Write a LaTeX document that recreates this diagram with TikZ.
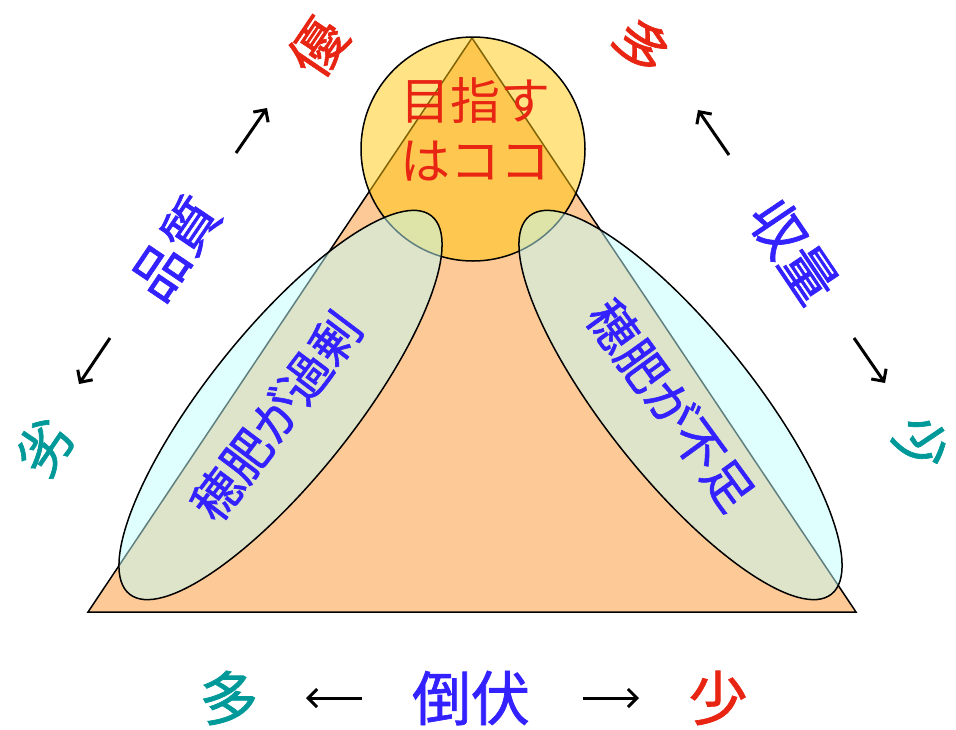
\documentclass[tikz,border=0pt]{standalone}
\usepackage{fontspec}
\setmainfont{Noto Sans CJK JP}
\newfontfamily\heavy[FakeBold=1.2]{Noto Sans CJK JP}
\usetikzlibrary{shapes.geometric,arrows.meta}
\definecolor{peach}{RGB}{253,201,150}
\definecolor{sun}{RGB}{255,199,11}
\definecolor{ice}{RGB}{192,255,255}
\definecolor{jred}{RGB}{232,36,18}
\definecolor{jblue}{RGB}{51,34,255}
\definecolor{jteal}{RGB}{0,153,153}
\tikzset{
  goaltxt/.style={inner sep=0pt, font=\fontsize{50}{60}\selectfont},
  lbl/.style={inner sep=0pt, font=\heavy\fontsize{55}{64}\selectfont},
  big/.style={inner sep=0pt, font=\heavy\fontsize{59}{66}\selectfont},
  inlbl/.style={inner sep=0pt, font=\heavy\fontsize{49}{58}\selectfont, text=jblue},
  arr/.style={line width=3pt, -{Straight Barb[length=9pt,width=18pt,line width=3pt]}},
  blob/.style={ellipse, draw=black, line width=1.5pt, fill=ice, fill opacity=0.5, inner sep=0pt},
}
\begin{document}
\begin{tikzpicture}[x=1pt,y=-1pt]
\useasboundingbox (0,0) rectangle (956,729);
% triangle
\coordinate (A) at (472,38);
\coordinate (B) at (88,612);
\coordinate (C) at (856,612);
\draw[fill=peach, line width=1.5pt, line join=miter] (A) -- (B) -- (C) -- cycle;
% target circle
\node[circle, draw=black, line width=1.5pt, fill=sun, fill opacity=0.5, minimum size=224pt, inner sep=0pt] (goal) at (473,149) {};
% ellipses
\node[blob, minimum width=484pt, minimum height=147pt, rotate=51.4] (ellL) at (280.5,405) {};
\node[blob, minimum width=484pt, minimum height=147pt, rotate=-51.4] (ellR) at (680.5,405) {};
% texts in circle
\node[goaltxt, text=jred] (t1) at (475,100) {目指す};
\node[goaltxt, text=jred] (t2) at (475,161) {はココ};
% texts in ellipses
\node[inlbl, rotate=53] (kL) at (276,416) {穂肥が過剰};
\node[inlbl, rotate=-54] (kR) at (671,405) {穂肥が不足};
% left side: quality
\node[lbl, text=jred, rotate=56] (yu) at (318,47) {優};
\node[lbl, text=jblue, rotate=56] (hin) at (175,248) {品質};
\node[lbl, text=jteal, rotate=56] (re) at (44,447) {劣};
\coordinate (l1s) at (236,153); \coordinate (l1e) at (267,108);
\coordinate (l2s) at (110,338); \coordinate (l2e) at (79,384);
\draw[arr] (l1s) -- (l1e);
\draw[arr] (l2s) -- (l2e);
% right side: yield
\node[lbl, text=jred, rotate=-56] (ta) at (642,46) {多};
\node[lbl, text=jblue, rotate=-56] (shu) at (794,251) {収量};
\node[lbl, text=jteal, rotate=-56] (sho) at (922,443) {少};
\coordinate (r1s) at (729,155); \coordinate (r1e) at (698,110);
\coordinate (r2s) at (854,338); \coordinate (r2e) at (885,383);
\draw[arr] (r1s) -- (r1e);
\draw[arr] (r2s) -- (r2e);
% bottom: lodging
\node[big, text=jteal] (bta) at (229,698) {多};
\node[big, text=jblue] (tou) at (471,698) {倒伏};
\node[big, text=jred] (bsho) at (718,698) {少};
\coordinate (b1s) at (362,698); \coordinate (b1e) at (306,698);
\coordinate (b2s) at (583,698); \coordinate (b2e) at (639,698);
\draw[arr] (b1s) -- (b1e);
\draw[arr] (b2s) -- (b2e);
\end{tikzpicture}
\end{document}
